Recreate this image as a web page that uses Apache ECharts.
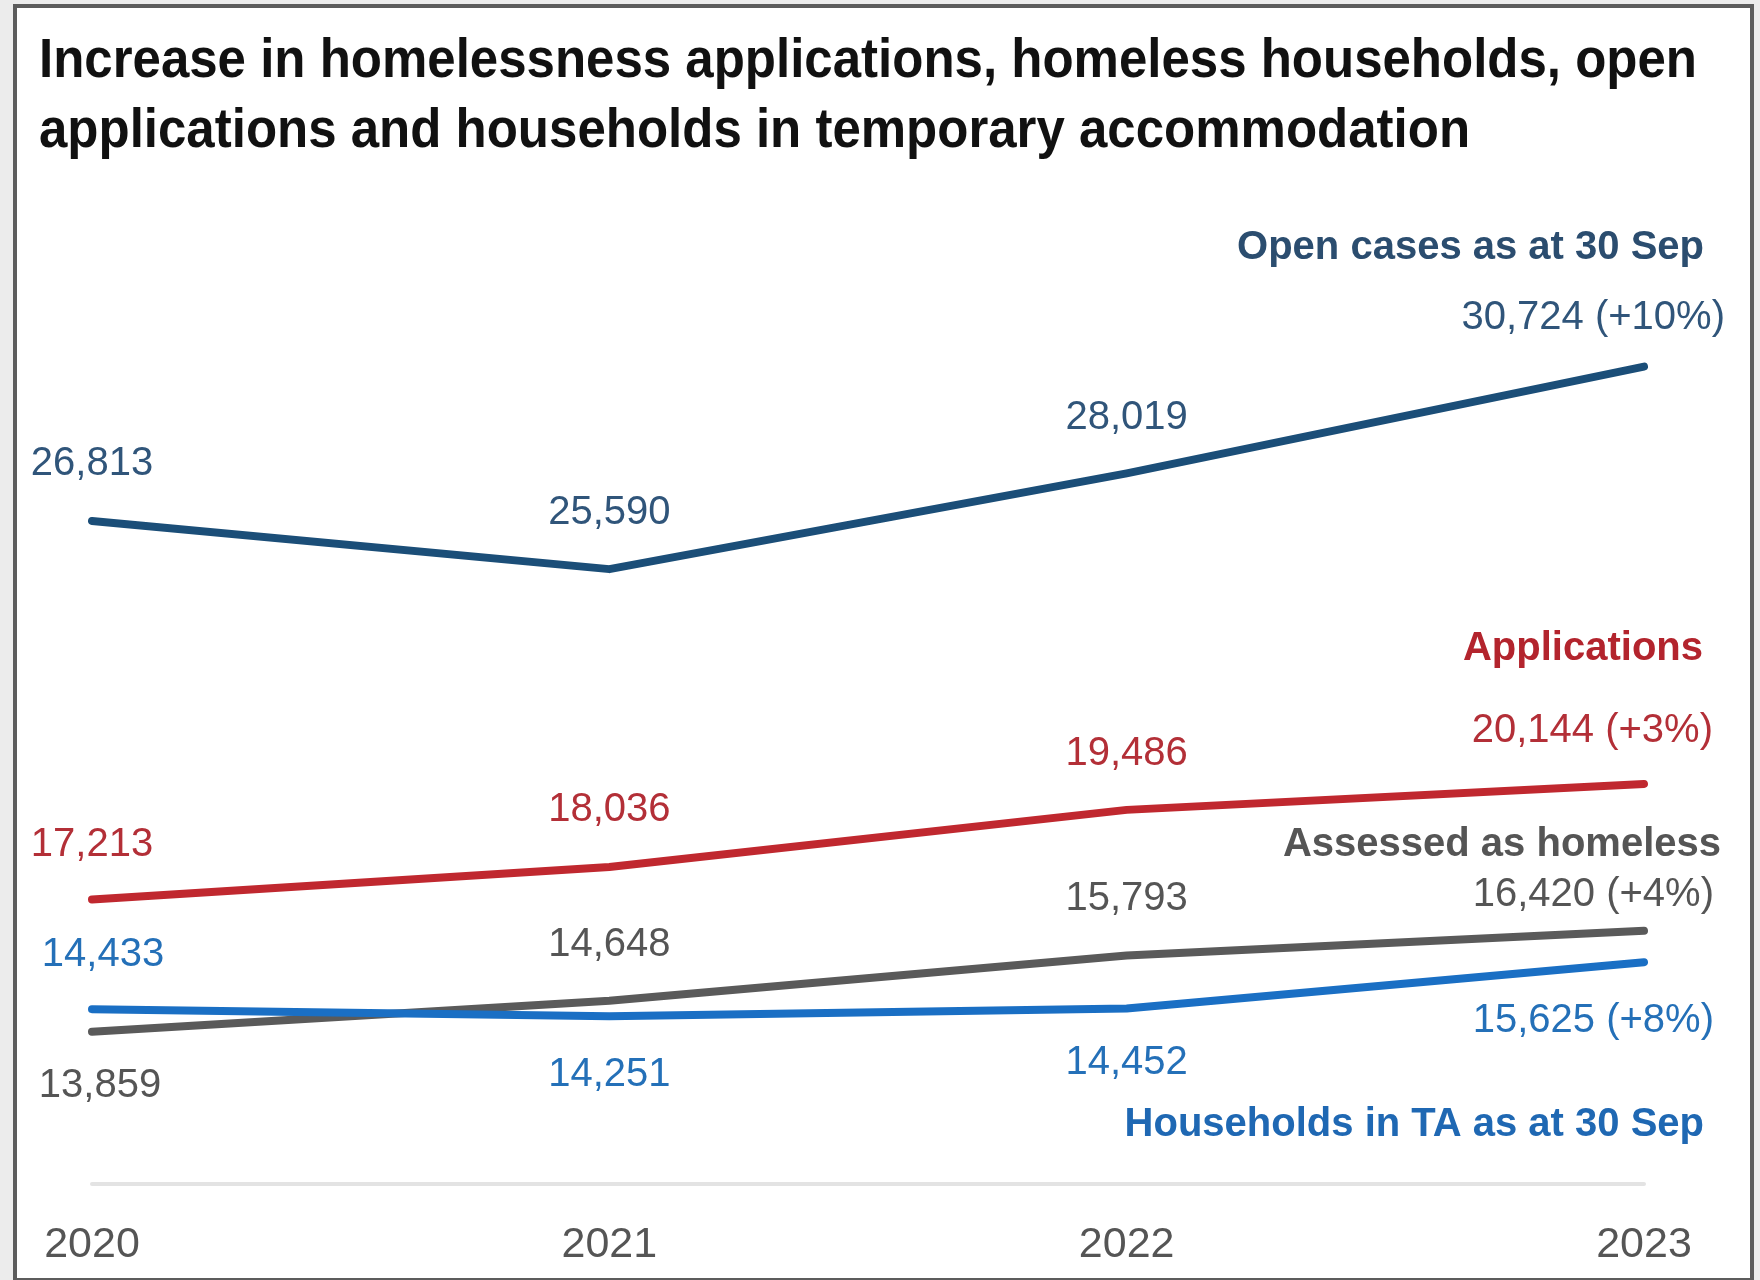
<!DOCTYPE html>
<html>
<head>
<meta charset="utf-8">
<script src="https://cdn.jsdelivr.net/npm/echarts@6/dist/echarts.min.js"></script>
<style>
  html, body { margin: 0; padding: 0; background: #ececec; }
  #panel { position: absolute; left: 13px; top: 4px; width: 1733px; height: 1270px; background: #ffffff; border: 4px solid #5c5c5c; box-sizing: content-box; }
  #chart { position: absolute; left: 0; top: 0; width: 1760px; height: 1280px; }
</style>
</head>
<body>
<div id="panel"></div>
<div id="chart"></div>
<script>
// ---- data ----
const years = ['2020', '2021', '2022', '2023'];
const openCases = [26813, 25590, 28019, 30724];
const applications = [17213, 18036, 19486, 20144];
const assessedHomeless = [13859, 14648, 15793, 16420];
const householdsTA = [14433, 14251, 14452, 15625];
const seriesNames = ['Open cases as at 30 Sep', 'Applications', 'Assessed as homeless', 'Households in TA as at 30 Sep'];
const lastChange = ['+10%', '+3%', '+4%', '+8%'];
const titleText = 'Increase in homelessness applications, homeless households, open\napplications and households in temporary accommodation';

// ---- styling (label placement per point: [dx, dy, align]) ----
const FONT = "'Liberation Sans', Arial, sans-serif";
const lineColors = ['#1b4e78', '#c0282f', '#5a5a5a', '#1a6fc4'];
const labelColors = ['#30557a', '#b32f37', '#555555', '#2470b8'];
const nameColors = ['#2b4d6f', '#b3242d', '#555555', '#1f68b3'];
const placements = [
  [[0, -57, 'center'], [0, -56, 'center'], [0, -55, 'center'], [81, -49, 'right']],
  [[0, -55, 'center'], [0, -57, 'center'], [0, -56, 'center'], [69, -53, 'right']],
  [[8, 54, 'center'], [0, -56, 'center'], [0, -57, 'center'], [70, -36, 'right']],
  [[11, -54, 'center'], [0, 59, 'center'], [0, 55, 'center'], [70, 59, 'right']]
];
const namePlacements = [[60, -119], [59, -135], [77, -86], [60, 163]];

const fmt = v => v.toLocaleString('en-US');

function buildSeries(values, idx) {
  const last = values.length - 1;
  const data = values.map((v, i) => {
    const p = placements[idx][i];
    return {
      value: v,
      label: {
        show: true,
        position: 'inside',
        offset: [p[0], p[1]],
        align: p[2],
        verticalAlign: 'middle',
        formatter: i === last ? (fmt(v) + ' (' + lastChange[idx] + ')') : fmt(v)
      }
    };
  });
  return {
    type: 'line',
    name: seriesNames[idx],
    data: data,
    symbol: 'circle',
    symbolSize: 1,
    showSymbol: true,
    smooth: false,
    lineStyle: { color: lineColors[idx], width: 8, join: 'round', cap: 'round' },
    itemStyle: { color: lineColors[idx], borderWidth: 0 },
    label: {
      show: true,
      color: labelColors[idx],
      fontFamily: FONT,
      fontSize: 40,
      lineHeight: 44
    },
    emphasis: { disabled: true },
    markPoint: {
      symbol: 'circle',
      symbolSize: 1,
      silent: true,
      itemStyle: { color: 'rgba(0,0,0,0)' },
      label: {
        show: true,
        position: 'inside',
        align: 'right',
        verticalAlign: 'middle',
        offset: namePlacements[idx],
        color: nameColors[idx],
        fontFamily: FONT,
        fontWeight: 'bold',
        fontSize: 40,
        lineHeight: 44,
        formatter: seriesNames[idx]
      },
      data: [{ coord: [years[last], values[last]] }]
    }
  };
}

const chart = echarts.init(document.getElementById('chart'), null, { renderer: 'canvas' });
chart.setOption({
  backgroundColor: 'transparent',
  animation: false,
  graphic: [{
    type: 'text',
    x: 39,
    y: 26,
    scaleY: 1.1,
    silent: true,
    style: {
      text: titleText,
      fill: '#111111',
      fontFamily: FONT,
      fontWeight: 'bold',
      fontSize: 51,
      lineHeight: 64,
      verticalAlign: 'top',
      align: 'left'
    }
  }],
  grid: { left: 92, right: 116, top: 198, bottom: 96, containLabel: false },
  xAxis: {
    type: 'category',
    data: years,
    boundaryGap: false,
    axisLine: { show: true, lineStyle: { color: '#e3e3e3', width: 4 } },
    axisTick: { show: false },
    axisLabel: {
      margin: 40,
      fontFamily: FONT,
      fontSize: 43,
      lineHeight: 43,
      color: '#555555'
    },
    splitLine: { show: false }
  },
  yAxis: {
    type: 'value',
    min: 10000,
    max: 35000,
    show: false,
    splitLine: { show: false }
  },
  series: [
    buildSeries(openCases, 0),
    buildSeries(applications, 1),
    buildSeries(assessedHomeless, 2),
    buildSeries(householdsTA, 3)
  ]
});
</script>
</body>
</html>
